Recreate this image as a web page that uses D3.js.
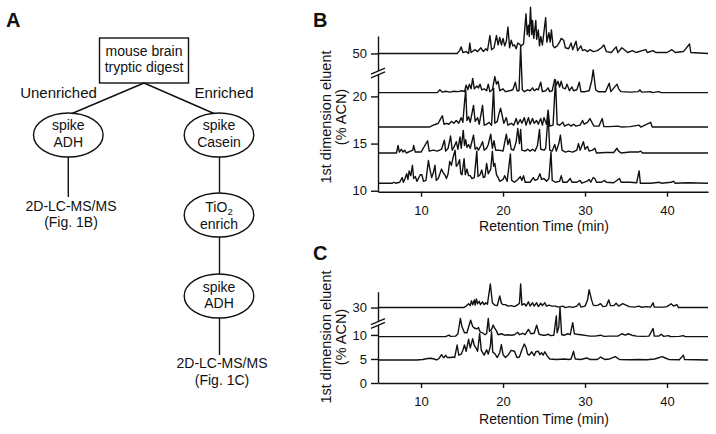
<!DOCTYPE html>
<html><head><meta charset="utf-8">
<script src="https://cdn.jsdelivr.net/npm/d3@7"></script>
<style>
html,body{margin:0;padding:0;background:#fff;}
svg{display:block;font-family:"Liberation Sans",Arial,Helvetica,sans-serif;}
</style></head><body>
<svg id="fig" width="716" height="434"></svg>
<script>
// ---------------- DATA ----------------
const retentionTicks = [10, 20, 30, 40];
const retentionDomain = [4.75, 45];

// Panel B: 1st dimension eluent (% ACN) tick values and trace offsets
const bTickValues = [10, 15, 20, 50];
const bTraceOffsets = [10.8, 14.0, 16.75, 20.4, 50];
// Panel C
const cTickValues = [0, 5, 10, 30];
const cTraceOffsets = [4.8, 9.65, 30];

// Chromatogram traces: [retention time (min), signal above baseline]
const traceB11 = [[4.75,0],[6.5,0],[6.7,0.1],[6.9,0],[7.4,0.1],[7.7,0.6],[7.85,0.1],[8.05,0.5],[8.25,1.0],[8.4,0.4],[8.55,1.3],[8.75,0.8],[8.95,1.9],[9.1,0.5],[9.3,0.7],[9.5,0.2],[9.9,0.9],[10.1,0.9],[10.3,0.2],[10.6,0.3],[10.9,2.4],[11.05,1.6],[11.3,0.6],[11.5,1.1],[11.7,1.9],[11.85,0.3],[12.1,0.5],[12.3,1.0],[12.5,1.5],[12.7,1.1],[12.9,0.9],[13.1,0.5],[13.3,1.0],[13.5,2.3],[13.7,1.9],[13.9,2.7],[14.15,3.5],[14.3,1.8],[14.5,2.0],[14.7,2.5],[14.85,1.0],[15.0,0.9],[15.25,2.6],[15.4,0.9],[15.6,1.5],[15.8,0.8],[16.0,0.8],[16.2,0.5],[16.5,0.6],[16.8,3.4],[16.95,0.7],[17.2,0.9],[17.4,1.4],[17.6,0.6],[17.8,0.7],[18.0,2.1],[18.2,1.0],[18.5,1.5],[18.7,3.4],[18.85,1.8],[19.0,2.1],[19.2,0.9],[19.4,0.6],[19.6,0.2],[20.0,0.4],[20.2,0.8],[20.5,0.2],[20.9,3.1],[21.05,0.3],[21.4,0.1],[21.8,0.4],[22.1,0.7],[22.3,0.3],[22.5,0.8],[22.7,0.1],[23.3,0.1],[23.7,0.6],[23.9,0.3],[24.2,0.4],[24.5,1.0],[24.7,0.4],[25.0,0.5],[25.3,0.2],[25.6,0.5],[25.85,3.3],[26.0,0.3],[26.4,0.1],[26.9,0.2],[27.1,0.8],[27.3,0.1],[27.8,0.1],[28.2,0.5],[28.4,0.1],[29.0,0.1],[29.4,0.3],[29.6,0],[30.2,0.2],[30.5,0.4],[30.7,0.1],[31.0,0.6],[31.2,0.5],[31.4,0.1],[32.0,0.1],[32.4,0.3],[32.6,0.1],[33.5,0.05],[34.2,0.5],[34.4,0.1],[35.0,0.1],[35.5,0.1],[36.3,0.05],[36.6,1.3],[36.75,0],[38.0,0],[39.1,0.1],[39.3,0],[40.5,0.1],[40.8,0.2],[41.0,0],[42.5,0.05],[45,0]];

const traceB14 = [[4.75,0],[7.0,0],[7.2,0.8],[7.35,0.1],[7.6,0.4],[7.8,0.1],[8.0,0.3],[8.2,0],[9.0,0.3],[9.1,0.8],[9.3,0.1],[10.0,0.1],[10.8,1.3],[11.0,0.2],[11.5,0.3],[12.0,0.2],[12.5,0.4],[12.85,1.35],[13.0,0.2],[13.3,0.5],[13.6,1.8],[13.8,0.3],[14.0,0.6],[14.3,1.2],[14.5,0.4],[14.75,1.7],[14.9,0.5],[15.15,2.4],[15.3,0.8],[15.45,1.4],[15.6,0.6],[15.8,0.9],[16.0,0.5],[16.4,1.9],[16.6,0.4],[16.8,0.6],[17.0,0.3],[17.3,0.8],[17.5,1.2],[17.7,0.3],[18.0,0.5],[18.2,0.9],[18.5,2.0],[18.7,0.5],[18.9,1.3],[19.1,0.3],[19.5,0.3],[20.0,0.2],[20.4,2.0],[20.6,0.9],[20.8,1.5],[21.0,0.4],[21.3,0.3],[21.6,1.2],[21.8,2.6],[22.0,1.0],[22.15,2.5],[22.3,0.3],[22.7,0.2],[23.0,0.4],[23.3,0.2],[23.6,0.4],[23.9,0.2],[24.2,0.8],[24.45,2.5],[24.6,0.4],[25.0,0.3],[25.2,0.5],[25.5,4.0],[25.7,0.3],[26.0,0.2],[26.3,0.9],[26.5,0.2],[26.8,1.0],[27.0,1.9],[27.2,0.3],[27.6,0.1],[28.0,0.2],[28.5,0.1],[29.0,0.3],[29.2,1.0],[29.4,0.3],[29.8,1.2],[30.0,0.4],[30.3,0.7],[30.5,0.2],[30.9,0.3],[31.2,0.5],[31.4,0],[32.5,0.05],[33.5,0.05],[33.9,0.5],[34.1,0.2],[34.4,0],[35.5,0.1],[36.5,0.1],[36.8,0.2],[37.0,0],[45,0]];

const traceB17 = [[4.75,0],[11.0,0],[11.5,0.2],[11.8,0.3],[12.1,0.4],[12.4,0.9],[12.6,1.2],[12.8,0.3],[13.1,0.4],[13.4,0.3],[13.7,0.6],[14.0,0.4],[14.3,0.7],[14.6,0.4],[14.9,1.0],[15.1,0.5],[15.3,2.6],[15.45,3.9],[15.6,0.7],[15.8,1.1],[16.0,0.5],[16.4,2.3],[16.6,0.6],[16.9,1.0],[17.1,0.3],[17.5,2.3],[17.7,0.2],[18.0,0.3],[18.3,0.5],[18.6,0.2],[18.85,4.1],[19.0,0.4],[19.3,0.6],[19.5,1.4],[19.7,2.0],[19.9,1.2],[20.1,0.4],[20.4,1.0],[20.6,0.2],[21.0,0.4],[21.3,0.2],[21.6,0.9],[21.8,0.3],[22.1,0.8],[22.3,0.4],[22.6,1.0],[22.8,0.2],[23.1,1.0],[23.3,0.3],[23.6,0.9],[23.8,0.4],[24.1,0.7],[24.3,0.3],[24.6,0.9],[24.8,0.2],[25.0,1.0],[25.3,0.3],[25.5,1.8],[25.7,0.1],[26.1,0.2],[26.4,5.0],[26.6,0.3],[26.9,0.2],[27.3,0.5],[27.5,0.1],[28.0,0.3],[28.3,0.1],[28.6,0.3],[28.9,0.1],[29.4,0.2],[29.7,0.7],[29.9,0.3],[30.3,0.5],[30.6,0.9],[30.9,0.4],[31.1,0.1],[31.7,0.1],[32.1,0.9],[32.3,0.05],[33.0,0.05],[34.0,0.1],[34.5,0],[35.5,0.05],[36.6,0.2],[36.8,0],[38.0,0.5],[38.2,0],[45,0]];

const traceB20 = [[4.75,0],[12.0,0],[12.3,0.3],[12.6,0.05],[13.0,0.15],[13.5,0.05],[14.0,0.15],[14.5,0.1],[15.0,0.2],[15.3,0.1],[15.5,0.8],[15.7,0.3],[15.9,0.9],[16.1,0.4],[16.3,1.5],[16.5,0.4],[16.8,0.7],[17.0,0.5],[17.2,0.9],[17.4,0.3],[17.7,0.4],[18.0,0.2],[18.2,0.9],[18.4,0.1],[18.7,0.3],[19.0,1.7],[19.2,0.9],[19.4,1.2],[19.6,0.2],[20.0,0.4],[20.3,0.1],[20.8,0.2],[21.2,0.3],[21.5,1.1],[21.7,0.2],[21.95,0.2],[22.15,4.9],[22.35,0.3],[22.6,0.1],[23.0,0.3],[23.3,0.2],[23.6,0.5],[23.8,0.2],[24.1,0.4],[24.3,0.3],[24.6,1.1],[24.8,0.1],[25.2,0.2],[25.5,0.5],[25.7,0.1],[26.0,0.2],[26.3,1.4],[26.5,0.8],[26.7,1.2],[26.9,0.6],[27.1,1.2],[27.3,0.5],[27.6,0.4],[27.8,0.9],[28.1,0.2],[28.4,0.6],[28.6,0.2],[29.0,0.3],[29.3,1.1],[29.5,0.1],[30.0,0.1],[30.5,0.2],[30.8,1.2],[31.0,2.4],[31.3,0.3],[31.6,0.1],[32.5,0.1],[32.95,1.0],[33.15,0.1],[33.9,0.9],[34.1,0.4],[34.4,0.1],[35.5,0.05],[36.5,0.1],[36.7,0.3],[36.9,0.05],[38.0,0.1],[38.2,0],[39.0,0.1],[39.3,0],[45,0]];

const traceB50 = [[4.75,0],[14.4,0],[14.7,0.3],[14.9,0.7],[15.1,0.1],[15.5,0.2],[15.8,0],[15.95,1.1],[16.1,0.1],[16.6,0.4],[16.9,0.2],[17.3,0.6],[17.6,0.2],[17.9,0.5],[18.1,0.3],[18.4,1.9],[18.6,0.4],[18.9,0.6],[19.2,1.9],[19.4,0.9],[19.6,1.7],[19.8,0.9],[20.0,1.6],[20.2,0.8],[20.4,1.3],[20.6,2.8],[20.8,0.6],[21.0,1.4],[21.2,0.8],[21.4,0.9],[21.6,0.5],[21.8,1.1],[22.0,1.0],[22.2,0.8],[22.5,1.0],[22.8,4.2],[22.95,2.0],[23.1,3.0],[23.2,1.8],[23.35,4.9],[23.5,2.0],[23.6,3.5],[23.75,1.6],[24.0,3.5],[24.1,1.5],[24.3,2.5],[24.45,0.8],[24.6,1.8],[24.8,0.9],[25.2,3.8],[25.35,1.2],[25.6,2.2],[25.75,1.2],[25.9,2.5],[26.1,0.8],[26.3,0.6],[26.6,0.8],[26.9,1.2],[27.1,1.6],[27.4,1.4],[27.6,0.6],[28.0,0.5],[28.3,1.1],[28.5,0.4],[28.9,1.3],[29.1,0.3],[29.5,0.8],[29.7,0.3],[30.0,0.4],[30.3,0.2],[30.6,0.4],[31.0,0.2],[31.5,0.3],[32.0,0.6],[32.3,0.9],[32.6,0.2],[33.2,0.1],[33.8,0.7],[34.0,0.1],[34.5,0.6],[34.8,0.4],[35.2,0.1],[35.8,0.3],[36.2,0.1],[37.4,0.4],[37.6,0.1],[38.3,0.3],[38.6,0.1],[40.0,0.1],[40.6,0.4],[41.0,0.1],[42.0,0.2],[42.75,1.0],[42.9,0.1],[45,0]];

const traceC5 = [[4.75,0],[9.5,0],[10.2,0.1],[10.8,0.3],[11.2,0.35],[11.6,0.2],[11.9,0],[12.2,0.3],[12.5,1.1],[12.7,0.6],[12.8,0.5],[13.0,1.0],[13.2,0.5],[13.6,0.5],[13.9,0.6],[14.1,0.5],[14.4,3.1],[14.6,1.0],[14.9,1.2],[15.1,2.0],[15.3,3.1],[15.5,1.8],[15.8,4.3],[16.0,2.5],[16.3,4.4],[16.5,3.0],[16.7,2.5],[16.9,1.8],[17.15,5.5],[17.35,2.0],[17.7,1.0],[18.0,2.1],[18.2,1.2],[18.45,2.8],[18.6,5.9],[18.75,1.6],[19.0,1.3],[19.3,0.5],[19.6,1.5],[19.8,3.2],[20.0,1.1],[20.3,0.5],[20.6,1.0],[21.0,2.0],[21.4,1.8],[21.7,0.5],[22.0,0.6],[22.3,2.1],[22.6,3.3],[22.8,2.6],[23.0,1.2],[23.2,1.0],[23.5,1.7],[23.8,0.9],[24.0,1.7],[24.3,1.8],[24.5,1.1],[24.7,1.5],[24.9,1.0],[25.1,1.7],[25.4,0.8],[25.7,0.2],[26.5,0.1],[27.5,0.2],[28.0,0.1],[28.3,0.2],[28.6,1.8],[28.8,0.2],[29.5,0.1],[30.2,0.4],[30.6,0.1],[31.5,0.1],[31.9,0.6],[32.4,0.1],[33.0,0.2],[33.7,0.7],[34.2,0.1],[35.5,0.05],[36.5,0.1],[37.5,0.05],[38.5,0.2],[39.4,0.7],[39.8,0.4],[40.2,0.1],[41.5,0.05],[42.0,1.0],[42.15,0.1],[45,0]];

const traceC10 = [[4.75,0],[13.0,0],[13.4,0.3],[13.6,0.05],[14.2,0.1],[14.5,0.6],[14.8,3.8],[15.0,2.0],[15.3,0.8],[15.6,0.8],[15.8,2.0],[16.05,3.4],[16.3,2.1],[16.5,1.8],[16.8,1.6],[17.0,1.9],[17.2,1.0],[17.5,0.8],[17.8,0.4],[18.0,0.6],[18.2,3.8],[18.35,1.1],[18.6,1.5],[18.8,2.4],[19.0,1.7],[19.2,1.2],[19.4,0.4],[19.8,0.6],[20.2,0.3],[20.6,0.4],[21.0,0.3],[21.4,0.4],[21.8,0.9],[22.0,0.4],[22.4,0.7],[22.7,0.4],[23.1,1.5],[23.4,0.6],[23.8,0.7],[24.1,2.4],[24.4,0.5],[24.8,0.3],[25.2,0.3],[25.5,0.5],[25.8,0.2],[26.2,0.3],[26.5,4.3],[26.6,0.8],[26.8,2.0],[26.95,6.0],[27.15,0.4],[27.5,0.3],[27.9,0.6],[28.2,0.4],[28.5,2.9],[28.7,0.6],[29.0,0.5],[29.5,0.4],[30.2,0.2],[30.6,0.1],[31.2,0.1],[31.9,0.3],[32.3,0.05],[33.0,0.1],[34.0,0.1],[34.5,0.6],[34.9,0.3],[35.3,0.6],[35.7,0.3],[36.3,0.1],[37.0,0.05],[37.8,0.1],[38.3,1.7],[38.45,0.1],[39.0,0.1],[39.3,0.5],[39.6,0.05],[40.2,0.2],[40.4,0],[41.5,0.05],[42.0,0.2],[42.2,0],[45,0]];

const traceC30 = [[4.75,0],[15.2,0],[15.5,0.3],[15.8,0.8],[16.0,0.4],[16.15,1.4],[16.3,0.6],[16.5,1.6],[16.6,0.5],[16.75,1.8],[16.9,0.8],[17.1,1.3],[17.25,0.6],[17.5,1.2],[17.7,0.6],[17.9,1.0],[18.1,0.7],[18.45,4.9],[18.7,1.0],[19.0,0.5],[19.3,0.4],[19.6,2.4],[19.8,0.9],[20.0,0.6],[20.3,0.6],[20.6,0.3],[21.0,0.4],[21.4,0.2],[21.8,0.6],[22.0,0.9],[22.15,4.9],[22.3,0.5],[22.6,0.8],[22.8,0.3],[23.1,1.2],[23.3,0.3],[23.6,1.0],[23.8,0.3],[24.1,1.0],[24.3,0.2],[24.6,0.9],[24.8,0.4],[25.1,1.0],[25.3,0.3],[25.6,0.5],[26.0,0.3],[26.4,0.3],[26.8,0.1],[27.3,0.3],[27.6,0],[28.1,0.2],[28.5,0.05],[29.0,0.3],[29.3,0.9],[29.5,0.1],[30.0,0.3],[30.3,1.5],[30.5,3.7],[30.8,1.6],[31.0,0.5],[31.3,0.4],[31.6,0.5],[31.9,0.8],[32.2,0.2],[32.6,0.3],[32.9,1.6],[33.1,0.4],[33.5,0.4],[33.8,0.9],[34.1,0.3],[34.6,0.8],[35.0,0.5],[35.4,0.2],[36.0,0.1],[36.6,0.3],[36.9,0.05],[37.5,0.2],[38.0,0.1],[38.3,1.0],[38.45,0.1],[39.0,0.1],[39.6,0.1],[40.0,0.2],[40.5,0.8],[40.8,0.3],[41.2,0.6],[41.4,0],[45,0]];

const bTraces = [traceB11, traceB14, traceB17, traceB20, traceB50];
const cTraces = [traceC5, traceC10, traceC30];

// ---------------- DRAW ----------------
const svg = d3.select("#fig");
const INK = "#111";

// Broken-axis mappings (values above the break are shifted down)
const bDisp = v => v >= 50 ? v - 25.45 : v;
const cDisp = v => v >= 30 ? v - 14.3 : v;

function panel(opts){
  const {x, y, disp, ticks, offsets, traces, breakY, xLabelY, titleY, yTitleCenter} = opts;
  const g = svg.append("g");
  const line = d3.line().x(d => x(d[0])).y(d => y(d[1]));
  traces.forEach((tr, i) => {
    const base = disp(offsets[i]);
    g.append("path")
      .attr("d", line(tr.map(p => [p[0], base + p[1]])))
      .attr("fill", "none").attr("stroke", INK)
      .attr("stroke-width", 1.4).attr("stroke-linejoin", "round");
  });
  const xa = g.append("g").attr("transform", `translate(0,${y.range()[0]})`)
    .call(d3.axisBottom(x).tickValues(retentionTicks).tickSize(5).tickSizeOuter(0).tickPadding(3));
  const ya = g.append("g").attr("transform", `translate(${x.range()[0]},0)`)
    .call(d3.axisLeft(y).tickValues(ticks.map(disp)).tickFormat((d,i) => String(ticks[i])).tickSize(7).tickSizeOuter(0).tickPadding(4));
  [xa, ya].forEach(a => {
    a.selectAll("path,line").attr("stroke", INK).attr("stroke-width", 1.4);
    a.selectAll("text").attr("fill", INK).style("font-size", "13px")
      .style("font-family", '"Liberation Sans",Arial,sans-serif');
  });
  xa.selectAll("text").attr("dy", null).attr("y", xLabelY - y.range()[0]).attr("dominant-baseline", "auto");
  const x0 = x.range()[0];
  g.append("polygon")
    .attr("points", `${x0-7},${breakY+5} ${x0+7},${breakY-1} ${x0+7},${breakY-5} ${x0-7},${breakY+1}`)
    .attr("fill", "#fff");
  [-1.8, 1.8].forEach(o => {
    g.append("line").attr("x1", x0-7).attr("y1", breakY+3+o).attr("x2", x0+7).attr("y2", breakY-3+o)
      .attr("stroke", INK).attr("stroke-width", 1.3);
  });
  g.append("text").attr("x", (x.range()[0]+x.range()[1])/2 + 1).attr("y", titleY)
    .attr("text-anchor", "middle").style("font-size", "14px").attr("fill", INK)
    .text("Retention Time (min)");
  const yt = g.append("text").attr("transform", `translate(331,${yTitleCenter}) rotate(-90)`)
    .attr("text-anchor", "middle").style("font-size", "14.5px").attr("fill", INK);
  yt.append("tspan").attr("x", 0).attr("y", 0).text("1st dimension eluent");
  yt.append("tspan").attr("x", 0).attr("y", 15).text("(% ACN)");
}

const xB = d3.scaleLinear().domain(retentionDomain).range([378, 708]);
const yB = d3.scaleLinear().domain([9.9, 26.4]).range([191.7, 36]);
panel({x: xB, y: yB, disp: bDisp, ticks: bTickValues, offsets: bTraceOffsets, traces: bTraces,
  breakY: 73, xLabelY: 215, titleY: 231, yTitleCenter: 117});

const xC = d3.scaleLinear().domain(retentionDomain).range([378, 708]);
const yC = d3.scaleLinear().domain([0, 19]).range([383, 291.7]);
panel({x: xC, y: yC, disp: cDisp, ticks: cTickValues, offsets: cTraceOffsets, traces: cTraces,
  breakY: 323.5, xLabelY: 406, titleY: 424, yTitleCenter: 337});

[["A", 6, 27], ["B", 313, 27], ["C", 313, 260]].forEach(([t, px, py]) => {
  svg.append("text").attr("x", px).attr("y", py).text(t)
    .style("font-size", "20px").style("font-weight", "bold").attr("fill", INK);
});

// ---------------- Panel A flowchart ----------------
const fa = svg.append("g").attr("fill", "none").attr("stroke", INK).attr("stroke-width", 1.4);
fa.append("rect").attr("x", 99.5).attr("y", 38).attr("width", 89).attr("height", 45);
const ellipses = [[68.3,135],[219,135],[219,215],[219,296]];
ellipses.forEach(([cx,cy]) => fa.append("ellipse").attr("cx", cx).attr("cy", cy).attr("rx", 34.8).attr("ry", 22));
const links = [[144,83,72,113.5],[144,83,214,113.5],[68.3,157,68.3,197],[219.5,157,219.5,193],[219.5,237,219.5,274],[219.5,318,219.5,355]];
links.forEach(([a,b,c,d]) => fa.append("line").attr("x1",a).attr("y1",b).attr("x2",c).attr("y2",d));

const labels = [
  ["mouse brain", 144, 56], ["tryptic digest", 144, 72],
  ["Unenriched", 58.5, 97.5], ["Enriched", 224, 97.5],
  ["spike", 68.3, 130], ["ADH", 68.3, 146.5],
  ["spike", 219, 130], ["Casein", 219, 146.5],
  ["enrich", 219, 229],
  ["spike", 219, 292], ["ADH", 219, 307.5],
  ["2D-LC-MS/MS", 71, 210.5], ["(Fig. 1B)", 71, 227],
  ["2D-LC-MS/MS", 222, 367.5], ["(Fig. 1C)", 222, 384.5]
];
labels.forEach(([t, lx, ly]) => {
  svg.append("text").attr("x", lx).attr("y", ly).attr("text-anchor", "middle")
    .style("font-size", t === "Unenriched" || t === "Enriched" ? "15px" : "14px")
    .attr("fill", INK).text(t);
});
const tio = svg.append("text").attr("x", 219).attr("y", 211.5).attr("text-anchor", "middle")
  .style("font-size", "14px").attr("fill", INK);
tio.append("tspan").text("TiO");
tio.append("tspan").attr("dy", 3).style("font-size", "9.5px").text("2");
</script>
</body></html>
